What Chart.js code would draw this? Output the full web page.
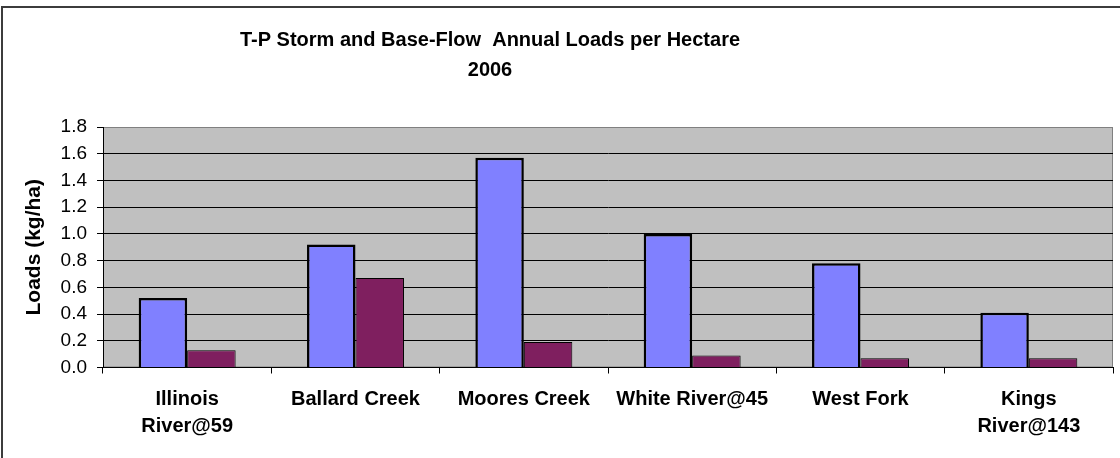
<!DOCTYPE html>
<html>
<head>
<meta charset="utf-8">
<title>T-P Storm and Base-Flow Annual Loads per Hectare 2006</title>
<script src="https://cdn.jsdelivr.net/npm/chart.js@4/dist/chart.umd.min.js"></script>
<style>
    html, body { margin: 0; padding: 0; background: #fff; overflow: hidden; }
    #wrap { position: relative; width: 1120px; height: 458px; overflow: hidden; }
    #frame { position: absolute; left: 1px; top: 6px; width: 1300px; height: 700px; border: 2px solid #3c3c3c; }
    #chart { position: absolute; left: 0; top: 0; }
</style>
</head>
<body>
<div id="wrap">
    <div id="frame"></div>
    <canvas id="chart" width="1120" height="458"></canvas>
</div>
<script>
var sites = [['Illinois', 'River@59'], 'Ballard Creek', 'Moores Creek', 'White River@45', 'West Fork', ['Kings', 'River@143']];
var stormLoads = [0.52, 0.92, 1.57, 1.00, 0.78, 0.41];
var baseLoads = [0.13, 0.67, 0.19, 0.09, 0.07, 0.07];
var yTickLabels = ['0.0', '0.2', '0.4', '0.6', '0.8', '1.0', '1.2', '1.4', '1.6', '1.8'];
var titleLines = ['T-P Storm and Base-Flow  Annual Loads per Hectare', '2006'];

var FONT = '"Liberation Sans", Arial, sans-serif';

// gray plot area with a thin gray border, like the old excel chart
var plotArea = {
    id: 'plotArea',
    beforeDraw: function (chart) {
        var ctx = chart.ctx, a = chart.chartArea;
        ctx.save();
        ctx.fillStyle = '#c0c0c0';
        ctx.fillRect(a.left, a.top, a.right - a.left, a.bottom - a.top);
        ctx.strokeStyle = '#808080';
        ctx.lineWidth = 1;
        ctx.strokeRect(a.left + 0.5, a.top + 0.5, a.right - a.left - 1, a.bottom - a.top - 1);
        ctx.restore();
    }
};

// title sits a bit left of center in the original
var chartTitle = {
    id: 'chartTitle',
    afterDraw: function (chart) {
        var ctx = chart.ctx;
        ctx.save();
        ctx.fillStyle = '#000';
        ctx.font = 'bold 20px ' + FONT;
        ctx.textAlign = 'center';
        ctx.textBaseline = 'middle';
        ctx.fillText(titleLines[0], 490, 40);
        ctx.fillText(titleLines[1], 490, 70);
        ctx.restore();
    }
};

new Chart(document.getElementById('chart'), {
    type: 'bar',
    data: {
        labels: sites,
        datasets: [
            {
                label: 'Storm Flow',
                backgroundColor: '#8080ff',
                borderColor: '#000',
                borderWidth: 2.5,
                data: stormLoads
            },
            {
                label: 'Base Flow',
                backgroundColor: '#7f1f5f',
                borderColor: '#000',
                borderWidth: 1,
                data: baseLoads
            }
        ]
    },
    options: {
        responsive: false,
        animation: false,
        categoryPercentage: 0.576,
        barPercentage: 1,
        layout: {
            padding: { top: 127, left: 18, right: 7, bottom: 0 }
        },
        plugins: {
            legend: { display: false },
            title: { display: false },
            tooltip: { enabled: false }
        },
        scales: {
            x: {
                offset: true,
                grid: {
                    offset: true,
                    drawOnChartArea: false,
                    tickLength: 6,
                    tickColor: '#000'
                },
                border: { color: '#000', width: 1 },
                ticks: {
                    color: '#000',
                    padding: 12,
                    maxRotation: 0,
                    autoSkip: false,
                    font: { family: FONT, size: 20, weight: 'bold', lineHeight: 1.35 }
                },
                afterFit: function (scale) {
                    scale.height = 90.5;
                }
            },
            y: {
                min: 0,
                max: 1.8,
                ticks: {
                    stepSize: 0.2,
                    color: '#000',
                    padding: 10,
                    font: { family: FONT, size: 19 },
                    callback: function (v, i) {
                        return yTickLabels[i];
                    }
                },
                grid: {
                    color: function (c) {
                        return c.index === yTickLabels.length - 1 ? '#808080' : '#000';
                    },
                    tickLength: 6,
                    tickColor: '#000'
                },
                border: { color: '#000', width: 1 },
                title: {
                    display: true,
                    text: 'Loads (kg/ha)',
                    color: '#000',
                    font: { family: FONT, size: 21, weight: 'bold' }
                },
                afterFit: function (scale) {
                    scale.width = 85;
                }
            }
        }
    },
    plugins: [plotArea, chartTitle]
});
</script>
</body>
</html>
